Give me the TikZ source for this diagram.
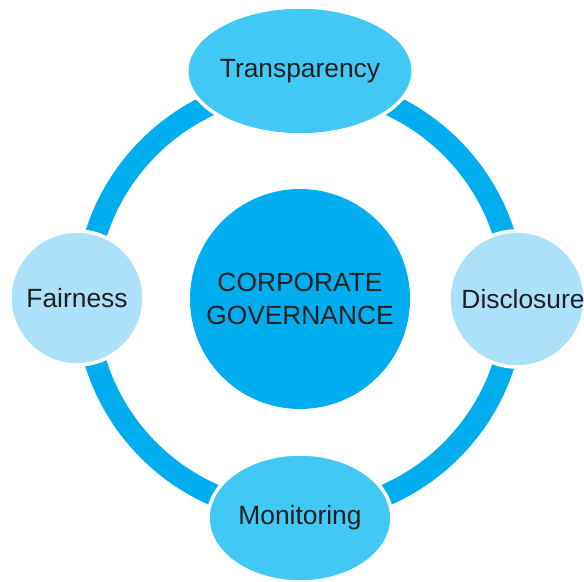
\documentclass[tikz,border=0pt]{standalone}
\usepackage{fontspec}
\setmainfont{Liberation Sans}
\usetikzlibrary{shapes.geometric}

\definecolor{govblue}{HTML}{00AEEF}
\definecolor{midblue}{HTML}{42C8F4}
\definecolor{paleblue}{HTML}{ABE2FA}
\definecolor{textgrey}{HTML}{231F20}

\begin{document}
\begin{tikzpicture}[
  pillar/.style={draw=white,line width=2pt,text=textgrey,
    font=\fontsize{15}{18.5}\selectfont,inner sep=0pt},
  oval/.style={pillar,ellipse,fill=midblue,minimum width=3.8cm,minimum height=2.56cm},
  disc/.style={pillar,circle,fill=paleblue,minimum size=2.68cm},
  ring/.style={draw=govblue,line width=0.44cm}]
  \useasboundingbox (-6.0,-5.66) rectangle (5.68,5.98);
  \node [pillar,circle,fill=govblue,minimum size=4.4cm,align=center,draw=none] (gov)
    {CORPORATE\\GOVERNANCE};
  % ring behind the four pillars
  \draw [ring] (gov.center) circle [radius=4.28cm];
  \node [oval] (trans) at (0,4.56) {Transparency};
  \node [oval,minimum width=3.68cm] (monit) at (0,-4.38) {Monitoring};
  \node [disc] (fair) at (-4.46,0.02) {Fairness};
  \node [disc] (discl) at (4.34,0) {\hspace{0.24cm}Disclosure};
\end{tikzpicture}
\end{document}
